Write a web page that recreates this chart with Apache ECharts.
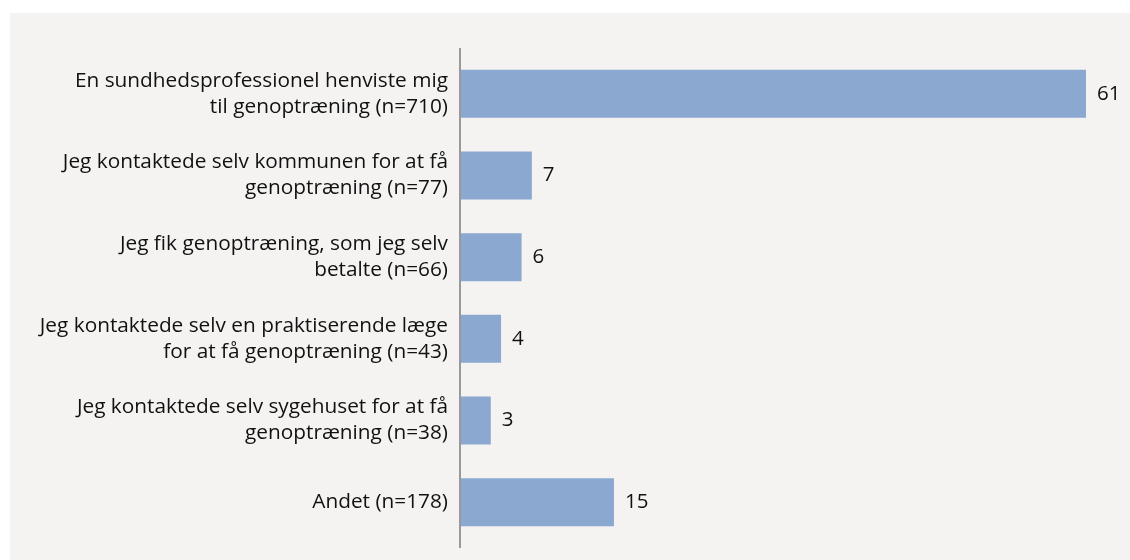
<!DOCTYPE html>
<html>
<head>
<meta charset="utf-8">
<script src="https://cdn.jsdelivr.net/npm/echarts@6/dist/echarts.min.js"></script>
<style>
  html, body { margin: 0; padding: 0; background: #ffffff; width: 1130px; height: 560px; overflow: hidden; }
  #chart { position: absolute; left: 10px; top: 13px; width: 1120px; height: 547px; }
</style>
</head>
<body>
<div id="chart"></div>
<script>
// Survey answers: how respondents came to receive rehabilitation (percent)
const categories = [
  'En sundhedsprofessionel henviste mig\ntil genoptræning (n=710)',
  'Jeg kontaktede selv kommunen for at få\ngenoptræning (n=77)',
  'Jeg fik genoptræning, som jeg selv\nbetalte (n=66)',
  'Jeg kontaktede selv en praktiserende læge\nfor at få genoptræning (n=43)',
  'Jeg kontaktede selv sygehuset for at få\ngenoptræning (n=38)',
  'Andet (n=178)'
];
const percentages = [61, 7, 6, 4, 3, 15];

const GRID = { left: 450, right: 44, top: 40, bottom: 17 };
const FONT = '"Open Sans", "Noto Sans", sans-serif';

const chart = echarts.init(document.getElementById('chart'));
chart.setOption({
  backgroundColor: '#f4f3f2',
  animation: false,
  grid: GRID,
  xAxis: {
    type: 'value',
    min: 0,
    max: 61,
    show: false
  },
  yAxis: {
    type: 'category',
    inverse: true,
    data: categories,
    axisLine: { show: false },
    axisTick: { show: false },
    axisLabel: {
      margin: 12,
      color: '#111111',
      fontFamily: FONT,
      fontSize: 20.8,
      lineHeight: 26,
      align: 'right'
    }
  },
  series: [{
    type: 'bar',
    data: percentages,
    barWidth: 48,
    itemStyle: { color: '#8ba8d0' },
    label: {
      show: true,
      position: 'right',
      distance: 11,
      color: '#111111',
      fontFamily: FONT,
      fontSize: 20.5
    }
  }],
  // vertical axis line, running slightly past the category bands
  graphic: [{
    type: 'line',
    shape: { x1: GRID.left, y1: GRID.top - 5, x2: GRID.left, y2: 547 - GRID.bottom + 5 },
    style: { stroke: '#999999', lineWidth: 2 },
    z: 10
  }]
});
</script>
</body>
</html>
